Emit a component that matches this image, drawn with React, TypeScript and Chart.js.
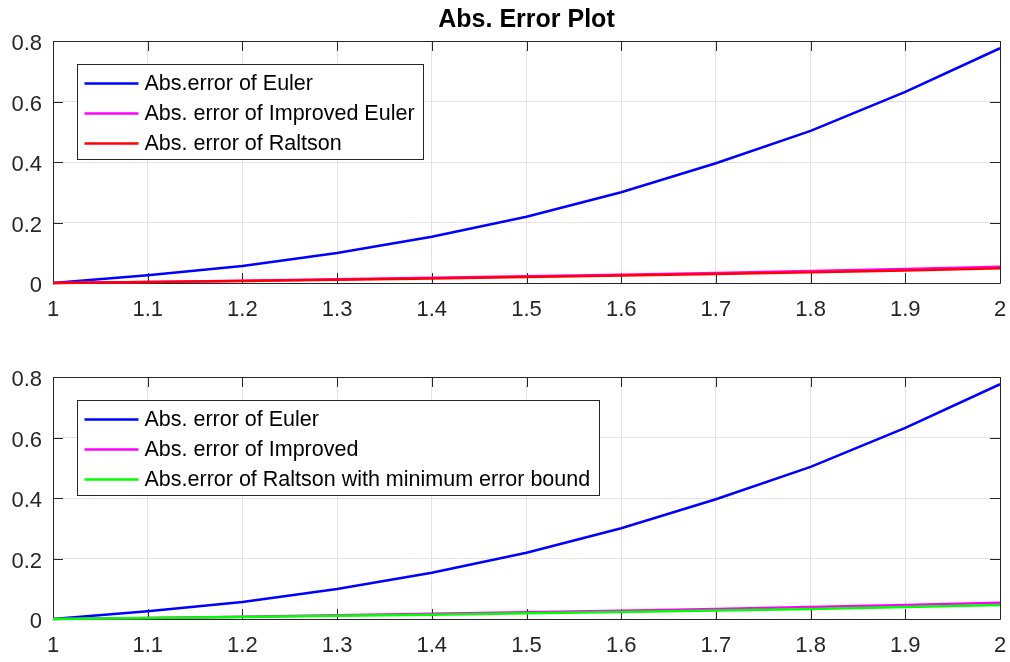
import React, { useEffect, useRef } from "react";
import { Chart, registerables } from "chart.js";

Chart.register(...registerables);

// Step points x = 1.0 … 2.0 (h = 0.1)
const xValues = [1.0, 1.1, 1.2, 1.3, 1.4, 1.5, 1.6, 1.7, 1.8, 1.9, 2.0];

// Absolute errors of each method
const eulerError = [0, 0.0255, 0.056, 0.099, 0.153, 0.219, 0.3, 0.396, 0.503, 0.632, 0.776];
const improvedEulerError = [0, 0.0035, 0.0078, 0.0125, 0.0172, 0.0222, 0.0275, 0.0333, 0.0395, 0.0463, 0.054];
const raltsonError = [0, 0.003, 0.007, 0.011, 0.0152, 0.0197, 0.0245, 0.0297, 0.0352, 0.0413, 0.0486];
const raltsonMinBoundError = [0, 0.0029, 0.0066, 0.0104, 0.0144, 0.0187, 0.0232, 0.0281, 0.0334, 0.0393, 0.046];

// Axis ticks
const xTicks = [1, 1.1, 1.2, 1.3, 1.4, 1.5, 1.6, 1.7, 1.8, 1.9, 2];
const yTicks = [0, 0.2, 0.4, 0.6, 0.8];

// Series labels
const topLabels = ["Abs.error of Euler", "Abs. error of Improved Euler", "Abs. error of Raltson"];
const bottomLabels = ["Abs. error of Euler", "Abs. error of Improved", "Abs.error of Raltson with minimum error bound"];

const FONT = '"Liberation Sans", Arial, Helvetica, sans-serif';
const AXIS_COLOR = "#262626";
const GRID_COLOR = "#e3e3e3";
const LINE_WIDTH = 2.5;

type Series = { label: string; data: number[]; color: string };
type Panel = {
  title?: string;
  series: Series[];
  height: number;
  padTop: number;
  xAxisHeight: number;
};

const panels: Panel[] = [
  {
    title: "Abs. Error Plot",
    series: [
      { label: topLabels[0], data: eulerError, color: "#0000ff" },
      { label: topLabels[1], data: improvedEulerError, color: "#ff00ff" },
      { label: topLabels[2], data: raltsonError, color: "#ff0000" },
    ],
    height: 331,
    padTop: 41,
    xAxisHeight: 48,
  },
  {
    series: [
      { label: bottomLabels[0], data: eulerError, color: "#0000ff" },
      { label: bottomLabels[1], data: improvedEulerError, color: "#ff00ff" },
      { label: bottomLabels[2], data: raltsonMinBoundError, color: "#00ff00" },
    ],
    height: 331,
    padTop: 46,
    xAxisHeight: 43,
  },
];

const fmt = (v: number) => String(Math.round(v * 10) / 10);

// Box frame with inward ticks on all four sides, plus title
const framePlugin = {
  id: "frame",
  beforeDatasetsDraw(chart: any) {
    const { ctx, chartArea: a, scales } = chart;
    const tl = 10;
    ctx.save();
    ctx.strokeStyle = AXIS_COLOR;
    ctx.lineWidth = 1;
    ctx.beginPath();
    ctx.rect(Math.round(a.left) + 0.5, Math.round(a.top) + 0.5, Math.round(a.right - a.left), Math.round(a.bottom - a.top));
    scales.x.ticks.forEach((t: any) => {
      const px = Math.round(scales.x.getPixelForValue(t.value)) + 0.5;
      ctx.moveTo(px, a.bottom);
      ctx.lineTo(px, a.bottom - tl);
      ctx.moveTo(px, a.top);
      ctx.lineTo(px, a.top + tl);
    });
    scales.y.ticks.forEach((t: any) => {
      const py = Math.round(scales.y.getPixelForValue(t.value)) + 0.5;
      ctx.moveTo(a.left, py);
      ctx.lineTo(a.left + tl, py);
      ctx.moveTo(a.right, py);
      ctx.lineTo(a.right - tl, py);
    });
    ctx.stroke();
    const title = chart.options.plugins.frame?.title;
    if (title) {
      ctx.fillStyle = "#000";
      ctx.font = `bold 25px ${FONT}`;
      ctx.textAlign = "center";
      ctx.textBaseline = "middle";
      ctx.fillText(title, (a.left + a.right) / 2, 20);
    }
    ctx.restore();
  },
};

// Boxed legend in the upper-left corner of the plot area
const boxLegendPlugin = {
  id: "boxLegend",
  afterDraw(chart: any) {
    const { ctx, chartArea: a } = chart;
    const sets = chart.data.datasets;
    ctx.save();
    ctx.font = `21.5px ${FONT}`;
    const textW = Math.max(...sets.map((d: any) => ctx.measureText(d.label).width));
    const left = Math.round(a.left + 24) + 0.5;
    const top = Math.round(a.top + 23) + 0.5;
    const w = Math.round(67 + textW + 9);
    const h = 95;
    ctx.fillStyle = "#fff";
    ctx.fillRect(left, top, w, h);
    ctx.strokeStyle = AXIS_COLOR;
    ctx.lineWidth = 1;
    ctx.strokeRect(left, top, w, h);
    sets.forEach((d: any, i: number) => {
      const y = top + 19 + i * 30;
      ctx.strokeStyle = d.borderColor;
      ctx.lineWidth = LINE_WIDTH;
      ctx.beginPath();
      ctx.moveTo(left + 7, y);
      ctx.lineTo(left + 61, y);
      ctx.stroke();
      ctx.fillStyle = "#000";
      ctx.textAlign = "left";
      ctx.textBaseline = "middle";
      ctx.fillText(d.label, left + 67, y + 1);
    });
    ctx.restore();
  },
};

function ErrorPanel({ panel }: { panel: Panel }) {
  const ref = useRef<HTMLCanvasElement | null>(null);

  useEffect(() => {
    if (!ref.current) return;
    const n = panel.series.length;
    const chart = new Chart(ref.current, {
      type: "line",
      data: {
        datasets: panel.series.map((s, i) => ({
          label: s.label,
          data: xValues.map((x, k) => ({ x, y: s.data[k] })),
          borderColor: s.color,
          backgroundColor: s.color,
          borderWidth: LINE_WIDTH,
          pointRadius: 0,
          tension: 0,
          clip: false as any,
          order: n - i,
        })),
      },
      options: {
        animation: false,
        responsive: false,
        events: [],
        layout: { padding: { left: 0, right: 10, top: panel.padTop, bottom: 0 } },
        plugins: {
          legend: { display: false },
          tooltip: { enabled: false },
          title: { display: false },
          frame: { title: panel.title },
        } as any,
        scales: {
          x: {
            type: "linear",
            min: 1,
            max: 2,
            afterBuildTicks: (s: any) => {
              s.ticks = xTicks.map((v) => ({ value: v }));
            },
            afterFit: (s: any) => {
              s.height = panel.xAxisHeight;
              s.paddingLeft = 0;
              s.paddingRight = 0;
            },
            grid: { color: GRID_COLOR, lineWidth: 1, drawTicks: false },
            border: { display: false },
            ticks: {
              font: { family: FONT, size: 22 },
              color: AXIS_COLOR,
              padding: 14,
              maxRotation: 0,
              autoSkip: false,
              callback: (v: any) => fmt(Number(v)),
            },
          },
          y: {
            type: "linear",
            min: 0,
            max: 0.8,
            afterBuildTicks: (s: any) => {
              s.ticks = yTicks.map((v) => ({ value: v }));
            },
            afterFit: (s: any) => {
              s.width = 53;
              s.paddingTop = 0;
              s.paddingBottom = 0;
            },
            grid: { color: GRID_COLOR, lineWidth: 1, drawTicks: false },
            border: { display: false },
            ticks: {
              font: { family: FONT, size: 22 },
              color: AXIS_COLOR,
              padding: 11,
              labelOffset: 3,
              callback: (v: any) => fmt(Number(v)),
            },
          },
        },
      },
      plugins: [framePlugin, boxLegendPlugin],
    });
    return () => chart.destroy();
  }, [panel]);

  return (
    <canvas
      ref={ref}
      width={1010}
      height={panel.height}
      style={{ display: "block", width: 1010, height: panel.height }}
    />
  );
}

export default function App() {
  return (
    <div
      style={{
        position: "fixed",
        left: 0,
        top: 0,
        width: 1010,
        height: 662,
        background: "#fff",
      }}
    >
      {panels.map((p, i) => (
        <ErrorPanel key={i} panel={p} />
      ))}
    </div>
  );
}
